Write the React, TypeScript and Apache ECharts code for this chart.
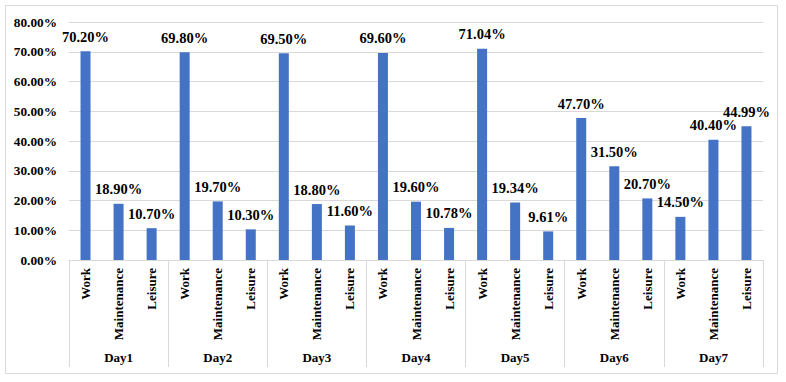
import React, { useEffect, useRef } from "react";
import * as echarts from "echarts";

const days = ["Day1", "Day2", "Day3", "Day4", "Day5", "Day6", "Day7"];
const activities = ["Work", "Maintenance", "Leisure"];
const workValues = [70.2, 69.8, 69.5, 69.6, 71.04, 47.7, 14.5];
const maintenanceValues = [18.9, 19.7, 18.8, 19.6, 19.34, 31.5, 40.4];
const leisureValues = [10.7, 10.3, 11.6, 10.78, 9.61, 20.7, 44.99];
const yTicks = [0, 10, 20, 30, 40, 50, 60, 70, 80];

const FONT = "Liberation Serif";

export default function App() {
  const ref = useRef<HTMLDivElement>(null);
  useEffect(() => {
    if (!ref.current) return;
    const chart = echarts.init(ref.current, undefined, { renderer: "svg" });
    const cats: string[] = [];
    const vals: number[] = [];
    const perActivity = [workValues, maintenanceValues, leisureValues];
    days.forEach((_, d) => {
      activities.forEach((a, k) => {
        cats.push(a);
        vals.push(perActivity[k][d]);
      });
    });
    chart.setOption({
      animation: false,
      graphic: [
        {
          type: "rect",
          shape: { x: 5.5, y: 5.5, width: 772, height: 368 },
          style: { fill: "none", stroke: "#d9d9d9", lineWidth: 1 },
          silent: true,
        },
      ],
      grid: { left: 69, right: 23, top: 22, bottom: 122, containLabel: false },
      xAxis: [
        {
          type: "category",
          position: "bottom",
          data: cats,
          axisLine: { show: true, lineStyle: { color: "#d9d9d9", width: 1 } },
          axisTick: { show: false },
          axisLabel: {
            rotate: 90,
            interval: 0,
            margin: 8,
            color: "#000",
            fontFamily: FONT,
            fontWeight: "bold",
            fontSize: 13,
          },
        },
        {
          type: "category",
          position: "bottom",
          offset: 0,
          data: days,
          axisLine: { show: false },
          axisTick: {
            show: true,
            length: 107,
            lineStyle: { color: "#d9d9d9", width: 1 },
          },
          axisLabel: {
            interval: 0,
            margin: 91,
            color: "#000",
            fontFamily: FONT,
            fontWeight: "bold",
            fontSize: 13,
          },
          splitLine: { show: false },
        },
      ],
      yAxis: {
        type: "value",
        min: yTicks[0],
        max: yTicks[yTicks.length - 1],
        interval: 10,
        axisLine: { show: false },
        axisTick: { show: false },
        splitLine: { lineStyle: { color: "#d9d9d9", width: 1 } },
        axisLabel: {
          margin: 12,
          color: "#000",
          fontFamily: FONT,
          fontWeight: "bold",
          fontSize: 13.3,
          formatter: (v: number) => v.toFixed(2) + "%",
        },
      },
      series: [
        {
          type: "bar",
          xAxisIndex: 0,
          data: vals,
          barWidth: 10,
          itemStyle: { color: "#4472C4" },
          label: {
            show: true,
            position: "top",
            distance: 7,
            color: "#000",
            fontFamily: FONT,
            fontWeight: "bold",
            fontSize: 14.5,
            formatter: (p: any) => Number(p.value).toFixed(2) + "%",
          },
        },
      ],
    });
    return () => chart.dispose();
  }, []);
  return (
    <div
      ref={ref}
      style={{ position: "absolute", left: 0, top: 0, width: 786, height: 382, background: "#fff" }}
    />
  );
}
